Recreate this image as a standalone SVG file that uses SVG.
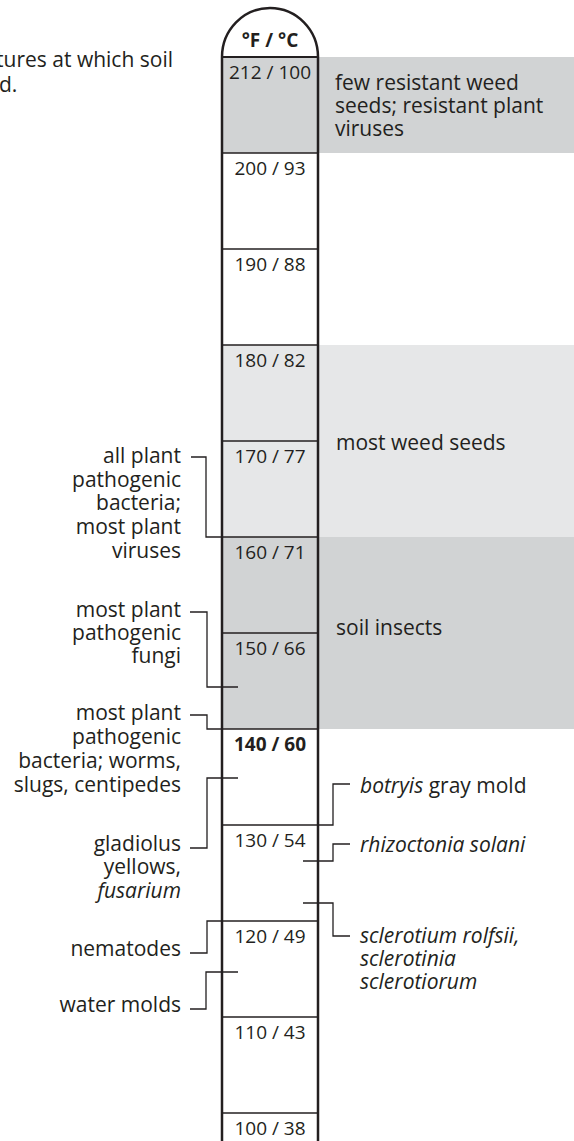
<svg xmlns="http://www.w3.org/2000/svg" width="574" height="1141" viewBox="0 0 574 1141">
<style>
.t{font-family:"Open Sans","Liberation Sans",sans-serif;font-size:21px;fill:#231f20}
.n{font-family:"Open Sans","Liberation Sans",sans-serif;font-size:19px;fill:#231f20;text-anchor:middle}
.r{text-anchor:end}
.i{font-style:italic}
.b{font-weight:bold}
.wall{fill:none;stroke:#231f20;stroke-width:2.5}
.row{stroke:#231f20;stroke-width:1.3}
.con{fill:none;stroke:#231f20;stroke-width:1.3}
.dk{fill:#d1d3d4}
.lt{fill:#e6e7e8}
</style>
<rect width="574" height="1141" fill="#fff"/>
<g id="caption">
<text class="t r" x="173" y="67">tures at which soil</text>
<text class="t" x="-1" y="92">d.</text>
</g>
<g id="bands">
<rect class="dk" x="222" y="57" width="352" height="96"/>
<rect class="lt" x="222" y="345" width="352" height="192"/>
<rect class="dk" x="222" y="537" width="352" height="192"/>
</g>
<g id="thermometer">
<path class="wall" d="M222,1141 V57 A48,49 0 0 1 318,57 V1141"/>
<line x1="222" y1="57" x2="318" y2="57" stroke="#231f20" stroke-width="2.2"/>
<line class="row" x1="222" y1="153" x2="318" y2="153"/>
<line class="row" x1="222" y1="249" x2="318" y2="249"/>
<line class="row" x1="222" y1="345" x2="318" y2="345"/>
<line class="row" x1="222" y1="441" x2="318" y2="441"/>
<line class="row" x1="222" y1="537" x2="318" y2="537"/>
<line class="row" x1="222" y1="633" x2="318" y2="633"/>
<line class="row" x1="222" y1="729" x2="318" y2="729"/>
<line class="row" x1="222" y1="825" x2="318" y2="825"/>
<line class="row" x1="222" y1="921" x2="318" y2="921"/>
<line class="row" x1="222" y1="1017" x2="318" y2="1017"/>
<line class="row" x1="222" y1="1113" x2="318" y2="1113"/>
<text class="n b" x="270" y="47" font-size="18">°F / °C</text>
<text class="n" x="270" y="79">212 / 100</text>
<text class="n" x="270" y="175">200 / 93</text>
<text class="n" x="270" y="271">190 / 88</text>
<text class="n" x="270" y="367">180 / 82</text>
<text class="n" x="270" y="463">170 / 77</text>
<text class="n" x="270" y="559">160 / 71</text>
<text class="n" x="270" y="655">150 / 66</text>
<text class="n b" x="270" y="751">140 / 60</text>
<text class="n" x="270" y="847">130 / 54</text>
<text class="n" x="270" y="943">120 / 49</text>
<text class="n" x="270" y="1039">110 / 43</text>
<text class="n" x="270" y="1135">100 / 38</text>
</g>
<g id="right-labels">
<text class="t" x="335" y="90">few resistant weed</text>
<text class="t" x="335" y="113">seeds; resistant plant</text>
<text class="t" x="335" y="136">viruses</text>
<text class="t" x="336" y="450">most weed seeds</text>
<text class="t" x="336" y="635">soil insects</text>
<text class="t" x="360" y="793"><tspan class="i">botryis</tspan> gray mold</text>
<text class="t i" x="360" y="852">rhizoctonia solani</text>
<text class="t i" x="360" y="943">sclerotium rolfsii,</text>
<text class="t i" x="360" y="966">sclerotinia</text>
<text class="t i" x="360" y="989">sclerotiorum</text>
</g>
<g id="left-labels">
<text class="t r" x="181" y="463">all plant</text>
<text class="t r" x="181" y="487">pathogenic</text>
<text class="t r" x="181" y="510">bacteria;</text>
<text class="t r" x="181" y="534">most plant</text>
<text class="t r" x="181" y="558">viruses</text>
<text class="t r" x="181" y="617">most plant</text>
<text class="t r" x="181" y="640">pathogenic</text>
<text class="t r" x="181" y="663">fungi</text>
<text class="t r" x="181" y="720">most plant</text>
<text class="t r" x="181" y="744">pathogenic</text>
<text class="t r" x="181" y="768">bacteria; worms,</text>
<text class="t r" x="181" y="792">slugs, centipedes</text>
<text class="t r" x="181" y="851">gladiolus</text>
<text class="t r" x="181" y="874">yellows,</text>
<text class="t r i" x="181" y="898">fusarium</text>
<text class="t r" x="181" y="956">nematodes</text>
<text class="t r" x="181" y="1012">water molds</text>
</g>
<g id="connectors">
<path class="con" d="M191,457 H206 V537 H222"/>
<path class="con" d="M190,612 H207 V687 H238"/>
<path class="con" d="M190,715 H207 V729 H222"/>
<path class="con" d="M190,848 H207 V778 H238"/>
<path class="con" d="M190,953 H207 V921 H222"/>
<path class="con" d="M190,1009 H206 V972 H238"/>
<path class="con" d="M318,825 H333 V784 H350"/>
<path class="con" d="M303,861 H333 V844 H350"/>
<path class="con" d="M303,903 H333 V936 H350"/>
</g>
</svg>
